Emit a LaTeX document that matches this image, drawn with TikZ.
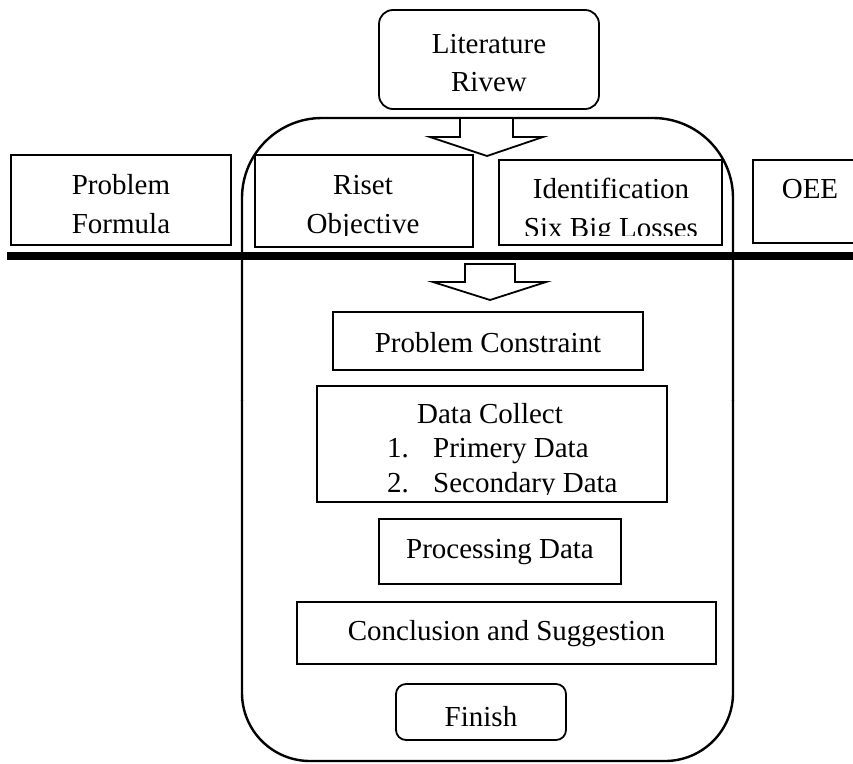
\documentclass[tikz,border=0pt]{standalone}
\usepackage{fontspec}
\setmainfont{Liberation Serif}
\begin{document}
\begin{tikzpicture}[x=1pt,y=-1pt,
  box/.style={draw, line width=1.8pt, inner sep=0pt, fill=none},
  rbox/.style={box, rounded corners=14pt},
  txt/.style={anchor=base, inner sep=0pt, font=\fontsize{29}{38}\selectfont},
  txtw/.style={txt, anchor=base west},
  barrow/.style={draw, line width=1.8pt, fill=white, line join=miter},
  frame/.style={draw, line width=2.4pt}]
\useasboundingbox (0,0) rectangle (853,763);

% outer rounded container
\draw[frame, rounded corners=68pt] (242,400) -- (242,761) -- (733,761) -- (733,400);
\draw[frame, rounded corners=80pt] (242,401) -- (242,118) -- (733,118) -- (733,401);

% Literature Rivew
\node[rbox, minimum width=220pt, minimum height=99pt] (lit) at (489,59.5) {};
\node[txt] (litA) at (489,53) {Literature};
\node[txt] (litB) at (489,91) {Rivew};

% top block arrow
\draw[barrow] (460,118) -- (460,137) -- (430,137) -- (487,156) -- (543,137) -- (513,137) -- (513,118) -- cycle;

% row of boxes
\node[box, minimum width=220pt, minimum height=90pt] (pf) at (121,200) {};
\node[txt] at (121,194) {Problem};
\node[txt] at (121,233) {Formula};

\node[box, minimum width=218pt, minimum height=92pt] (ro) at (364,201) {};
\begin{scope}
  \clip (255,150) rectangle (473,235);
  \node[txt] at (363,194) {Riset};
  \node[txt] at (363,233) {Objective};
\end{scope}

\node[box, minimum width=223pt, minimum height=85pt] (isb) at (610.5,202.5) {};
\begin{scope}
  \clip (499,150) rectangle (722,235);
  \node[txt] at (611,198) {Identification};
  \node[txt] at (611,237) {Six Big Losses};
\end{scope}

\coordinate (oeeA) at (853,160);
\coordinate (oeeB) at (853,243);
\draw[line width=1.8pt] (oeeA) -- (753,160) -- (753,243) -- (oeeB);
\node[txt] (oee) at (810,198) {OEE};

% thick separator
\coordinate (sepL) at (7,256);
\coordinate (sepR) at (853,256);
\draw[line width=8pt] (sepL) -- (sepR);

% second block arrow
\draw[barrow] (465,264) -- (465,282) -- (433,282) -- (490,300) -- (546,282) -- (515,282) -- (515,264) -- cycle;

% Problem Constraint
\node[box, minimum width=310pt, minimum height=58pt] (pc) at (488,341) {};
\node[txt] at (488,352) {Problem Constraint};

% Data Collect
\node[box, minimum width=350pt, minimum height=116pt] (dc) at (492,444) {};
\node[txt] at (490,423) {Data Collect};
\begin{scope}
  \clip (317,380) rectangle (667,494);
  \node[txtw] at (387,457) {1.};
  \node[txtw] at (433,457) {Primery Data};
  \node[txtw] at (387,492) {2.};
  \node[txtw] at (433,492) {Secondary Data};
\end{scope}

% Processing Data
\node[box, minimum width=242pt, minimum height=65pt] (pd) at (500,551.5) {};
\node[txt] at (500,558) {Processing Data};

% Conclusion and Suggestion
\node[box, minimum width=419pt, minimum height=62pt] (cs) at (506.5,633) {};
\node[txt] at (506.5,640) {Conclusion and Suggestion};

% Finish
\node[box, rounded corners=10pt, minimum width=170pt, minimum height=56pt] (fin) at (481,712) {};
\node[txt] at (481,726) {Finish};
\end{tikzpicture}
\end{document}
